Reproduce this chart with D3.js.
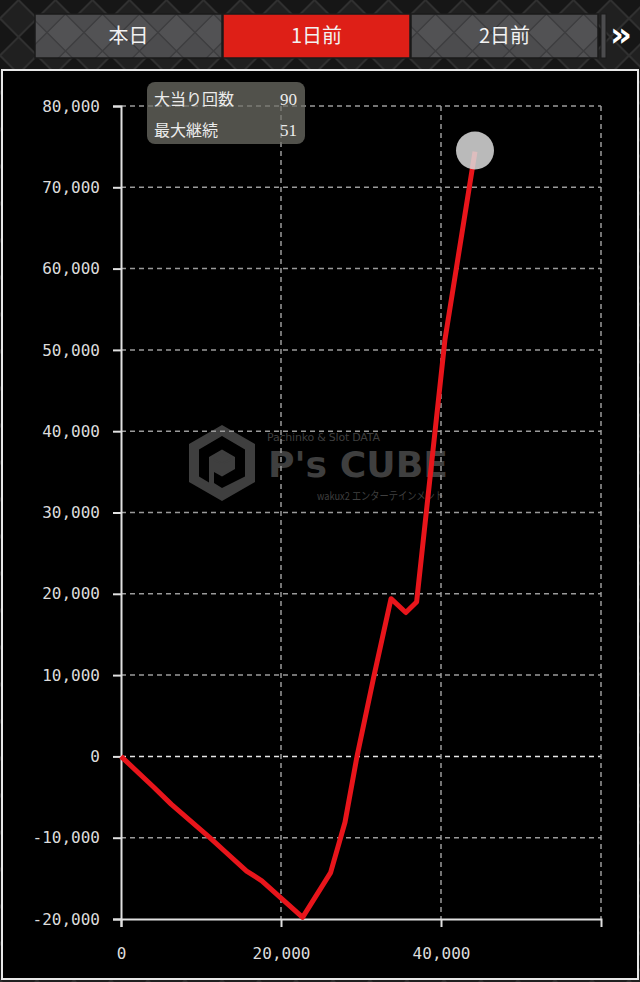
<!DOCTYPE html>
<html>
<head>
<meta charset="utf-8">
<script src="https://cdn.jsdelivr.net/npm/d3@7"></script>
<style>
  html, body { margin: 0; padding: 0; background: #161616; }
  svg { display: block; }
</style>
</head>
<body>
<div id="chart-area"></div>
<script>
// Data (x = games, y = balance)
var xValues = [0, 4000, 6300, 11100, 13000, 15700, 17600, 22700, 26200, 28000, 29500, 31600, 33750, 35600, 36950, 40500, 44250];
var yValues = [0, -3700, -5900, -10000, -11700, -14100, -15300, -19800, -14300, -8100, 0, 9800, 19400, 17700, 19000, 51300, 74400];

var tabLabels = ["本日", "1日前", "2日前"];
var activeTab = 1;

var legendLabels = ["大当り回数", "最大継続"];
var legendValues = [90, 51];

var xTickValues = [0, 20000, 40000];
var xGridValues = [20000, 40000, 60000];
var yTickValues = [-20000, -10000, 0, 10000, 20000, 30000, 40000, 50000, 60000, 70000, 80000];

var W = 640, H = 982;
var margin = { left: 121, right: 39, top: 106, bottom: 63 },
    width = W - margin.left - margin.right,
    height = H - margin.top - margin.bottom;

var svg = d3.select("#chart-area").append("svg")
    .attr("width", W)
    .attr("height", H);

// Patterns for the metallic diamond background
var defs = svg.append("defs");

var bgPat = defs.append("pattern")
    .attr("id", "bgDiamond")
    .attr("patternUnits", "userSpaceOnUse")
    .attr("width", 37)
    .attr("height", 37);
bgPat.append("rect").attr("width", 37).attr("height", 37).attr("fill", "#161616");
bgPat.append("path")
    .attr("d", "M0,18.5L18.5,0L37,18.5L18.5,37Z")
    .attr("fill", "#202020")
    .attr("stroke", "#303030")
    .attr("stroke-width", 2);

var tabPat = defs.append("pattern")
    .attr("id", "tabDiamond")
    .attr("patternUnits", "userSpaceOnUse")
    .attr("width", 37)
    .attr("height", 37)
    .attr("x", 10)
    .attr("y", 14);
tabPat.append("rect").attr("width", 37).attr("height", 37).attr("fill", "#4c4c4e");
tabPat.append("path")
    .attr("d", "M0,18.5L18.5,0L37,18.5L18.5,37Z")
    .attr("fill", "#525254")
    .attr("stroke", "#3d3d3f")
    .attr("stroke-width", 1.5);

svg.append("rect")
    .attr("width", W)
    .attr("height", H)
    .attr("fill", "url(#bgDiamond)");

// Day tabs
var tabs = svg.append("g").attr("class", "tabs");

tabs.selectAll("rect")
    .data(tabLabels)
    .enter().append("rect")
    .attr("x", function(d, i) { return 35 + i * 188; })
    .attr("y", 14)
    .attr("width", 187)
    .attr("height", 44)
    .attr("fill", function(d, i) { return i === activeTab ? "#de1f17" : "url(#tabDiamond)"; })
    .attr("stroke", "#1a1a1a")
    .attr("stroke-width", 1.5);

tabs.selectAll("text")
    .data(tabLabels)
    .enter().append("text")
    .attr("x", function(d, i) { return 35 + i * 188 + 93.5; })
    .attr("y", 43)
    .attr("text-anchor", "middle")
    .attr("font-family", "'Noto Sans CJK JP', sans-serif")
    .attr("font-size", "20px")
    .attr("fill", "#f2f2f2")
    .text(function(d) { return d; });

// small strip of the next tab and the arrow
tabs.append("rect")
    .attr("x", 601)
    .attr("y", 14)
    .attr("width", 5)
    .attr("height", 44)
    .attr("fill", "#4c4c4e")
    .attr("stroke", "#1a1a1a");
tabs.append("text")
    .attr("x", 621)
    .attr("y", 46)
    .attr("text-anchor", "middle")
    .attr("font-family", "'DejaVu Sans', sans-serif")
    .attr("font-weight", "bold")
    .attr("font-size", "34px")
    .attr("fill", "#ffffff")
    .text("»");

// Chart panel
svg.append("rect")
    .attr("x", 2)
    .attr("y", 70)
    .attr("width", 636)
    .attr("height", 909)
    .attr("fill", "#000")
    .attr("stroke", "#e8e8e8")
    .attr("stroke-width", 2);

// Watermark
var wm = svg.append("g")
    .attr("class", "watermark")
    .attr("fill", "#3f3f3f");

wm.append("path")
    .attr("transform", "translate(222,463)")
    .attr("d", "M0,-38L33,-19L33,19L0,38L-33,19L-33,-19Z M0,-27L-23,-13.5L-23,13.5L-13,19.5L-13,-6L0,-13.5L13,-6L13,6L0,13.5L-8,9L-8,20L0,25L23,13.5L23,-13.5Z")
    .attr("fill-rule", "evenodd");
wm.append("path")
    .attr("transform", "translate(222,463)")
    .attr("d", "M0,-10L9,-5L0,0L-9,-5Z M-9,-3L-1,1.5L-1,11L-9,6.5Z M9,-3L1,1.5L1,11L9,6.5Z");
wm.append("text")
    .attr("x", 267)
    .attr("y", 441)
    .attr("font-family", "'DejaVu Sans', sans-serif")
    .attr("font-size", "11px")
    .attr("textLength", 113)
    .text("Pachinko & Slot DATA");
wm.append("text")
    .attr("x", 268)
    .attr("y", 477)
    .attr("font-family", "'DejaVu Sans', sans-serif")
    .attr("font-weight", "bold")
    .attr("font-size", "35px")
    .attr("textLength", 180)
    .attr("lengthAdjust", "spacingAndGlyphs")
    .text("P's CUBE");
wm.append("text")
    .attr("x", 317)
    .attr("y", 500)
    .attr("font-family", "'Noto Sans CJK JP', sans-serif")
    .attr("font-size", "11px")
    .attr("textLength", 127)
    .attr("lengthAdjust", "spacingAndGlyphs")
    .text("wakux2 エンターテインメント");

var g = svg.append("g")
    .attr("transform", "translate(" + margin.left + ", " + margin.top + ")");

// Scales
var x_scale = d3.scaleLinear().domain([0, 60000]).range([0, width]);
var y_scale = d3.scaleLinear().domain([-20000, 80000]).range([height, 0]);

// Grid lines
g.append("g")
    .attr("class", "y-grid")
    .selectAll("line")
    .data(yTickValues.slice(1))
    .enter().append("line")
    .attr("x1", 0)
    .attr("x2", width)
    .attr("y1", function(d) { return y_scale(d); })
    .attr("y2", function(d) { return y_scale(d); })
    .attr("stroke", function(d) { return d === 0 ? "#e6e6e6" : "#9a9a9a"; })
    .attr("stroke-width", 1.5)
    .attr("stroke-dasharray", "5,4");

g.append("g")
    .attr("class", "x-grid")
    .selectAll("line")
    .data(xGridValues)
    .enter().append("line")
    .attr("x1", function(d) { return x_scale(d); })
    .attr("x2", function(d) { return x_scale(d); })
    .attr("y1", 0)
    .attr("y2", height)
    .attr("stroke", "#9a9a9a")
    .attr("stroke-width", 1.5)
    .attr("stroke-dasharray", "5,4");

// Axes
var fmt = function(d) { return d3.format(",")(d).replace("−", "-"); };

var xAxisCall = d3.axisBottom(x_scale)
    .tickValues(xTickValues)
    .tickSize(8)
    .tickPadding(21)
    .tickFormat(fmt);
var yAxisCall = d3.axisLeft(y_scale)
    .tickValues(yTickValues)
    .tickSize(8)
    .tickPadding(13)
    .tickFormat(fmt);

var xAxis = g.append("g")
    .attr("class", "x axis")
    .attr("transform", "translate(0," + height + ")")
    .call(xAxisCall);
var yAxis = g.append("g")
    .attr("class", "y axis")
    .call(yAxisCall);

[xAxis, yAxis].forEach(function(a) {
    a.select(".domain").attr("stroke", "#e0e0e0").attr("stroke-width", 2);
    a.selectAll(".tick line").attr("stroke", "#e0e0e0").attr("stroke-width", 2);
    a.selectAll(".tick text")
        .attr("fill", "#dcdcdc")
        .attr("font-family", "'DejaVu Sans Mono', monospace")
        .attr("font-size", "16px");
});

// Legend box
var legend = g.append("g")
    .attr("transform", "translate(" + (147 - margin.left) + "," + (82 - margin.top) + ")");

legend.append("rect")
    .attr("width", 158)
    .attr("height", 62)
    .attr("rx", 8)
    .attr("fill", "rgb(112,112,104)")
    .attr("fill-opacity", 0.72);

legend.selectAll(".lbl")
    .data(legendLabels)
    .enter().append("text")
    .attr("class", "lbl")
    .attr("x", 7)
    .attr("y", function(d, i) { return 23 + i * 31; })
    .attr("font-family", "'Noto Sans CJK JP', sans-serif")
    .attr("font-size", "16px")
    .attr("fill", "#ececec")
    .text(function(d) { return d; });

legend.selectAll(".val")
    .data(legendValues)
    .enter().append("text")
    .attr("class", "val")
    .attr("x", 150)
    .attr("y", function(d, i) { return 23 + i * 31; })
    .attr("text-anchor", "end")
    .attr("font-family", "'Liberation Serif', serif")
    .attr("font-size", "17px")
    .attr("fill", "#ececec")
    .text(function(d) { return d; });

// Line
var points = xValues.map(function(d, i) { return { x: d, y: yValues[i] }; });

var line = d3.line()
    .x(function(d) { return x_scale(d.x); })
    .y(function(d) { return y_scale(d.y); });

g.append("path")
    .attr("class", "line")
    .attr("fill", "none")
    .attr("stroke", "#e8151b")
    .attr("stroke-width", 5)
    .attr("stroke-linejoin", "round")
    .attr("d", line(points));

// Marker on the last point
var last = points[points.length - 1];
g.append("circle")
    .attr("cx", x_scale(last.x))
    .attr("cy", y_scale(last.y) - 1)
    .attr("r", 19)
    .attr("fill", "rgb(218,218,218)")
    .attr("fill-opacity", 0.85);
</script>
</body>
</html>
